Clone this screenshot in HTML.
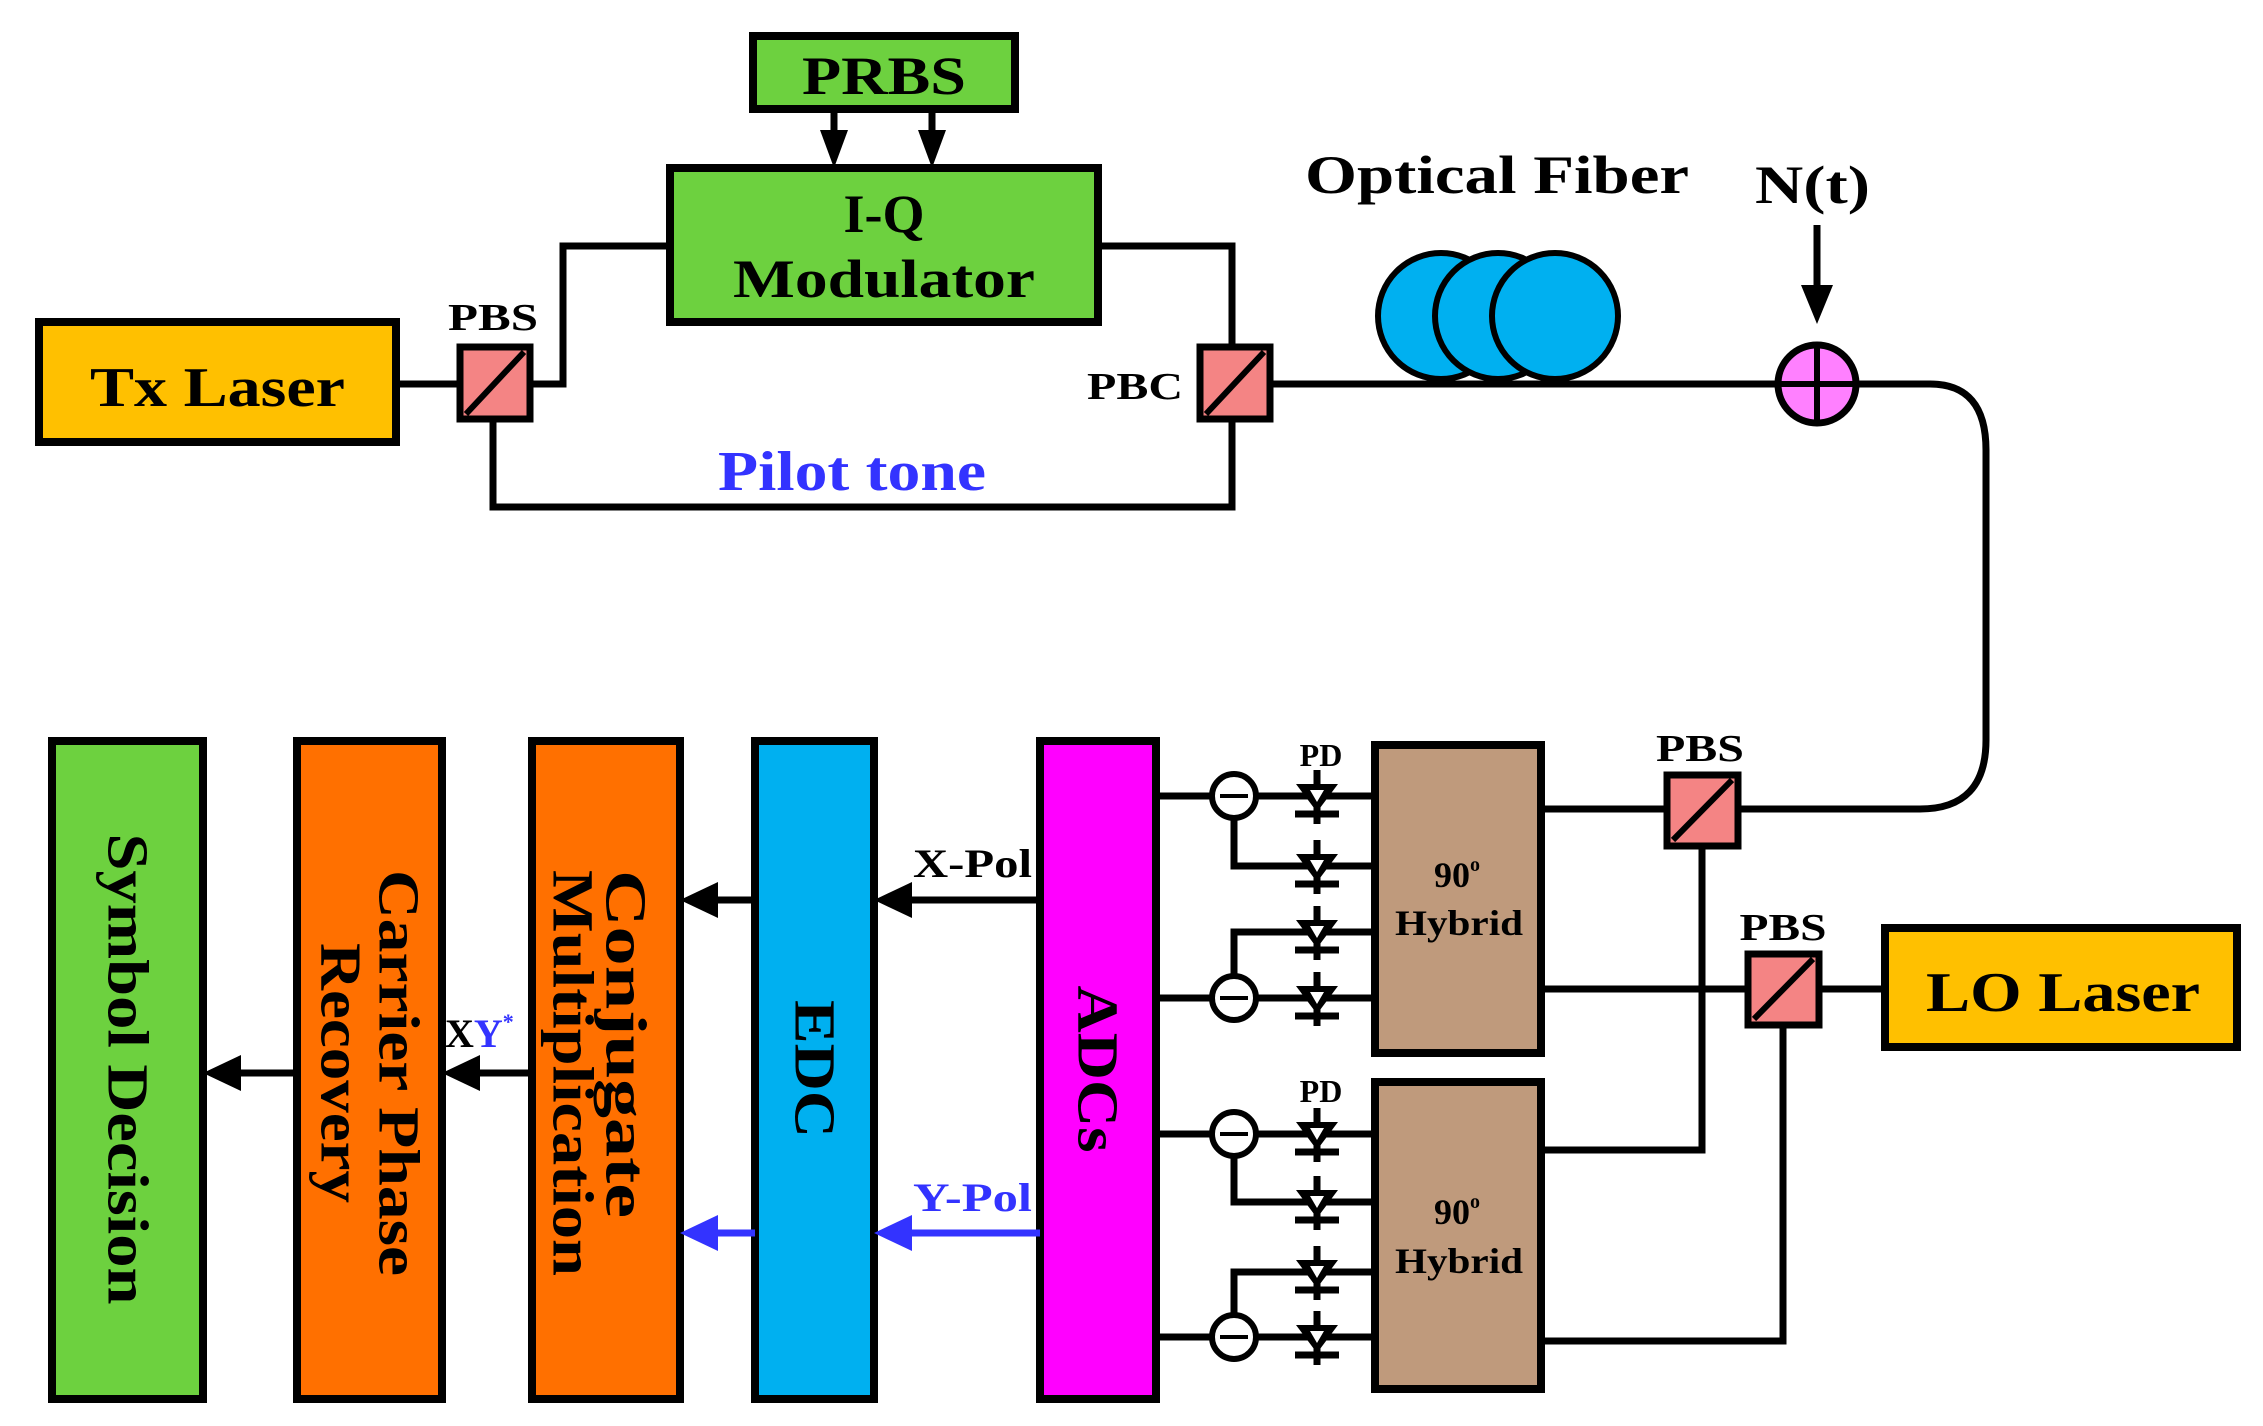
<!DOCTYPE html>
<html><head><meta charset="utf-8"><style>
html,body{margin:0;padding:0;background:#fff;}
svg{display:block;}
text{font-family:"Liberation Serif",serif;font-weight:bold;}
</style></head><body>
<svg width="2263" height="1426" viewBox="0 0 2263 1426" xmlns="http://www.w3.org/2000/svg">
<defs>
<marker id="ab" markerWidth="10" markerHeight="10" refX="0" refY="5" orient="auto" markerUnits="userSpaceOnUse" viewBox="0 0 10 10"></marker>
</defs>
<g stroke="#000" stroke-width="7" fill="none">
<!-- top connections -->
<line x1="396" y1="384" x2="458" y2="384"/>
<polyline points="532,384 563,384 563,246 670,246"/>
<polyline points="1098,246 1232,246 1232,345"/>
<polyline points="493,420 493,507 1232,507 1232,420"/>
<line x1="1270" y1="384" x2="1780" y2="384"/>
<path d="M1856,384 L1930,384 Q1986,384 1986,450 L1986,740 Q1986,809 1920,809 L1740,809"/>
<!-- receiver right lines -->
<line x1="1541" y1="809" x2="1665" y2="809"/>
<polyline points="1702,847 1702,1150 1541,1150"/>
<line x1="1541" y1="989" x2="1746" y2="989"/>
<line x1="1821" y1="989" x2="1885" y2="989"/>
<polyline points="1783,1025 1783,1341 1541,1341"/>
<!-- ADC lines -->
<line x1="1156" y1="796" x2="1375" y2="796"/>
<line x1="1156" y1="998" x2="1375" y2="998"/>
<line x1="1156" y1="1134" x2="1375" y2="1134"/>
<line x1="1156" y1="1337" x2="1375" y2="1337"/>
<polyline points="1234,796 1234,866 1375,866"/>
<polyline points="1234,998 1234,932 1375,932"/>
<polyline points="1234,1134 1234,1202 1375,1202"/>
<polyline points="1234,1337 1234,1272 1375,1272"/>
</g>
<!-- subtractor circles -->
<g stroke="#000" stroke-width="6" fill="#fff">
<circle cx="1234" cy="796" r="22"/><circle cx="1234" cy="998" r="22"/>
<circle cx="1234" cy="1134" r="22"/><circle cx="1234" cy="1337" r="22"/>
</g>
<g stroke="#000" stroke-width="4">
<line x1="1220" y1="796" x2="1248" y2="796"/><line x1="1220" y1="998" x2="1248" y2="998"/>
<line x1="1220" y1="1134" x2="1248" y2="1134"/><line x1="1220" y1="1337" x2="1248" y2="1337"/>
</g>
<!-- diodes -->
<g id="diodes">
<g transform="translate(1317,796)"><line x1="0" y1="-26" x2="0" y2="28" stroke="#000" stroke-width="7"/><polygon points="-21,-12 21,-12 0,16" fill="#000"/><polygon points="-7,-6 7,-6 0,6" fill="#fff"/><line x1="-22" y1="18" x2="22" y2="18" stroke="#000" stroke-width="7"/></g>
<g transform="translate(1317,866)"><line x1="0" y1="-26" x2="0" y2="28" stroke="#000" stroke-width="7"/><polygon points="-21,-12 21,-12 0,16" fill="#000"/><polygon points="-7,-6 7,-6 0,6" fill="#fff"/><line x1="-22" y1="18" x2="22" y2="18" stroke="#000" stroke-width="7"/></g>
<g transform="translate(1317,932)"><line x1="0" y1="-26" x2="0" y2="28" stroke="#000" stroke-width="7"/><polygon points="-21,-12 21,-12 0,16" fill="#000"/><polygon points="-7,-6 7,-6 0,6" fill="#fff"/><line x1="-22" y1="18" x2="22" y2="18" stroke="#000" stroke-width="7"/></g>
<g transform="translate(1317,998)"><line x1="0" y1="-26" x2="0" y2="28" stroke="#000" stroke-width="7"/><polygon points="-21,-12 21,-12 0,16" fill="#000"/><polygon points="-7,-6 7,-6 0,6" fill="#fff"/><line x1="-22" y1="18" x2="22" y2="18" stroke="#000" stroke-width="7"/></g>
<g transform="translate(1317,1134)"><line x1="0" y1="-26" x2="0" y2="28" stroke="#000" stroke-width="7"/><polygon points="-21,-12 21,-12 0,16" fill="#000"/><polygon points="-7,-6 7,-6 0,6" fill="#fff"/><line x1="-22" y1="18" x2="22" y2="18" stroke="#000" stroke-width="7"/></g>
<g transform="translate(1317,1202)"><line x1="0" y1="-26" x2="0" y2="28" stroke="#000" stroke-width="7"/><polygon points="-21,-12 21,-12 0,16" fill="#000"/><polygon points="-7,-6 7,-6 0,6" fill="#fff"/><line x1="-22" y1="18" x2="22" y2="18" stroke="#000" stroke-width="7"/></g>
<g transform="translate(1317,1272)"><line x1="0" y1="-26" x2="0" y2="28" stroke="#000" stroke-width="7"/><polygon points="-21,-12 21,-12 0,16" fill="#000"/><polygon points="-7,-6 7,-6 0,6" fill="#fff"/><line x1="-22" y1="18" x2="22" y2="18" stroke="#000" stroke-width="7"/></g>
<g transform="translate(1317,1337)"><line x1="0" y1="-26" x2="0" y2="28" stroke="#000" stroke-width="7"/><polygon points="-21,-12 21,-12 0,16" fill="#000"/><polygon points="-7,-6 7,-6 0,6" fill="#fff"/><line x1="-22" y1="18" x2="22" y2="18" stroke="#000" stroke-width="7"/></g>
</g>
<!-- boxes -->
<g stroke="#000" stroke-width="8">
<rect x="753" y="36" width="262" height="73" fill="#6dd13f"/>
<rect x="670" y="168" width="428" height="154" fill="#6dd13f"/>
<rect x="39" y="322" width="357" height="120" fill="#ffc000"/>
<rect x="1885" y="928" width="352" height="119" fill="#ffc000"/>
<rect x="1375" y="745" width="166" height="308" fill="#bf9a7c"/>
<rect x="1375" y="1082" width="166" height="307" fill="#bf9a7c"/>
<rect x="1040" y="741" width="116" height="658" fill="#ff00ff"/>
<rect x="755" y="741" width="119" height="658" fill="#00b0f0"/>
<rect x="532" y="741" width="148" height="658" fill="#ff7000"/>
<rect x="297" y="741" width="145" height="658" fill="#ff7000"/>
<rect x="52" y="741" width="151" height="658" fill="#6dd13f"/>
</g>
<!-- PBS cubes -->
<g stroke="#000" stroke-width="7" fill="#f48484">
<rect x="460" y="347" width="70" height="72"/>
<rect x="1200" y="347" width="70" height="72"/>
<rect x="1667" y="775" width="71" height="71"/>
<rect x="1748" y="954" width="71" height="71"/>
</g>
<g stroke="#000" stroke-width="6">
<line x1="466" y1="414" x2="524" y2="352"/>
<line x1="1206" y1="414" x2="1264" y2="352"/>
<line x1="1673" y1="840" x2="1732" y2="780"/>
<line x1="1754" y1="1019" x2="1813" y2="959"/>
</g>
<!-- fiber coils -->
<g stroke="#000" stroke-width="6" fill="#00b0f0">
<circle cx="1441" cy="316" r="63"/>
<circle cx="1498" cy="316" r="63"/>
<circle cx="1555" cy="316" r="63"/>
</g>
<!-- adder -->
<circle cx="1817" cy="384" r="39" fill="#ff80ff" stroke="#000" stroke-width="7"/>
<g stroke="#000" stroke-width="6"><line x1="1817" y1="348" x2="1817" y2="420"/><line x1="1781" y1="384" x2="1853" y2="384"/></g>
<!-- arrows -->
<g stroke="#000" stroke-width="7">
<line x1="834" y1="109" x2="834" y2="140"/><line x1="932" y1="109" x2="932" y2="140"/>
<line x1="1817" y1="225" x2="1817" y2="295"/>
<line x1="1040" y1="900" x2="905" y2="900"/>
<line x1="755" y1="900" x2="710" y2="900"/>
<line x1="532" y1="1073" x2="475" y2="1073"/>
<line x1="297" y1="1073" x2="235" y2="1073"/>
</g>
<g stroke="#3333ff" stroke-width="7">
<line x1="1040" y1="1233" x2="905" y2="1233"/>
<line x1="755" y1="1233" x2="710" y2="1233"/>
</g>
<g fill="#000">
<polygon points="820,130 848,130 834,168"/>
<polygon points="918,130 946,130 932,168"/>
<polygon points="1801,285 1833,285 1817,324"/>
<polygon points="912,882 912,918 874,900"/>
<polygon points="718,882 718,918 680,900"/>
<polygon points="480,1055 480,1091 442,1073"/>
<polygon points="241,1055 241,1091 203,1073"/>
</g>
<g fill="#3333ff">
<polygon points="912,1215 912,1251 874,1233"/>
<polygon points="718,1215 718,1251 680,1233"/>
</g>
<!-- texts -->
<g fill="#000">
<text x="884" y="94" font-size="54" text-anchor="middle" textLength="164" lengthAdjust="spacingAndGlyphs">PRBS</text>
<text x="884" y="232" font-size="54" text-anchor="middle">I-Q</text>
<text x="884" y="297" font-size="54" text-anchor="middle" textLength="302" lengthAdjust="spacingAndGlyphs">Modulator</text>
<text x="90" y="406" font-size="56" textLength="255" lengthAdjust="spacingAndGlyphs">Tx Laser</text>
<text x="493" y="330" font-size="38" text-anchor="middle" textLength="90" lengthAdjust="spacingAndGlyphs">PBS</text>
<text x="1135" y="399" font-size="38" text-anchor="middle" textLength="96" lengthAdjust="spacingAndGlyphs">PBC</text>
<text x="1305" y="193" font-size="54" textLength="384" lengthAdjust="spacingAndGlyphs">Optical Fiber</text>
<text x="1755" y="203" font-size="54" textLength="115" lengthAdjust="spacingAndGlyphs">N(t)</text>
<text x="1700" y="761" font-size="38" text-anchor="middle" textLength="88" lengthAdjust="spacingAndGlyphs">PBS</text>
<text x="1783" y="940" font-size="38" text-anchor="middle" textLength="87" lengthAdjust="spacingAndGlyphs">PBS</text>
<text x="1926" y="1011" font-size="56" textLength="274" lengthAdjust="spacingAndGlyphs">LO Laser</text>
<text x="1457" y="887" font-size="36" text-anchor="middle">90<tspan font-size="20" dy="-16">o</tspan></text>
<text x="1459" y="935" font-size="36" text-anchor="middle" textLength="128" lengthAdjust="spacingAndGlyphs">Hybrid</text>
<text x="1457" y="1224" font-size="36" text-anchor="middle">90<tspan font-size="20" dy="-16">o</tspan></text>
<text x="1459" y="1273" font-size="36" text-anchor="middle" textLength="128" lengthAdjust="spacingAndGlyphs">Hybrid</text>
<text x="1321" y="766" font-size="32" text-anchor="middle">PD</text>
<text x="1321" y="1102" font-size="32" text-anchor="middle">PD</text>
<text x="913" y="877" font-size="40" textLength="119" lengthAdjust="spacingAndGlyphs">X-Pol</text>
<text x="445" y="1047" font-size="40">X<tspan fill="#3333ff">Y</tspan><tspan font-size="22" dy="-18" fill="#3333ff">*</tspan></text>
</g>
<text x="718" y="490" font-size="56" fill="#3333ff" textLength="268" lengthAdjust="spacingAndGlyphs">Pilot tone</text>
<text x="913" y="1211" font-size="40" fill="#3333ff" textLength="119" lengthAdjust="spacingAndGlyphs">Y-Pol</text>
<!-- rotated texts -->
<g fill="#000" font-size="58">
<text transform="translate(128,1069) rotate(90)" text-anchor="middle" dominant-baseline="central" textLength="471" lengthAdjust="spacingAndGlyphs">Symbol Decision</text>
<text transform="translate(399,1073) rotate(90)" text-anchor="middle" dominant-baseline="central" textLength="406" lengthAdjust="spacingAndGlyphs">Carrier Phase</text>
<text transform="translate(341,1073) rotate(90)" text-anchor="middle" dominant-baseline="central" textLength="260" lengthAdjust="spacingAndGlyphs">Recovery</text>
<text transform="translate(626,1044) rotate(90)" text-anchor="middle" dominant-baseline="central" textLength="348" lengthAdjust="spacingAndGlyphs">Conjugate</text>
<text transform="translate(573,1073) rotate(90)" text-anchor="middle" dominant-baseline="central" textLength="406" lengthAdjust="spacingAndGlyphs">Multiplication</text>
<text transform="translate(815,1069) rotate(90)" text-anchor="middle" dominant-baseline="central" textLength="138" lengthAdjust="spacingAndGlyphs">EDC</text>
<text transform="translate(1098,1069) rotate(90)" text-anchor="middle" dominant-baseline="central" textLength="167" lengthAdjust="spacingAndGlyphs">ADCs</text>
</g>
</svg>
</body></html>
